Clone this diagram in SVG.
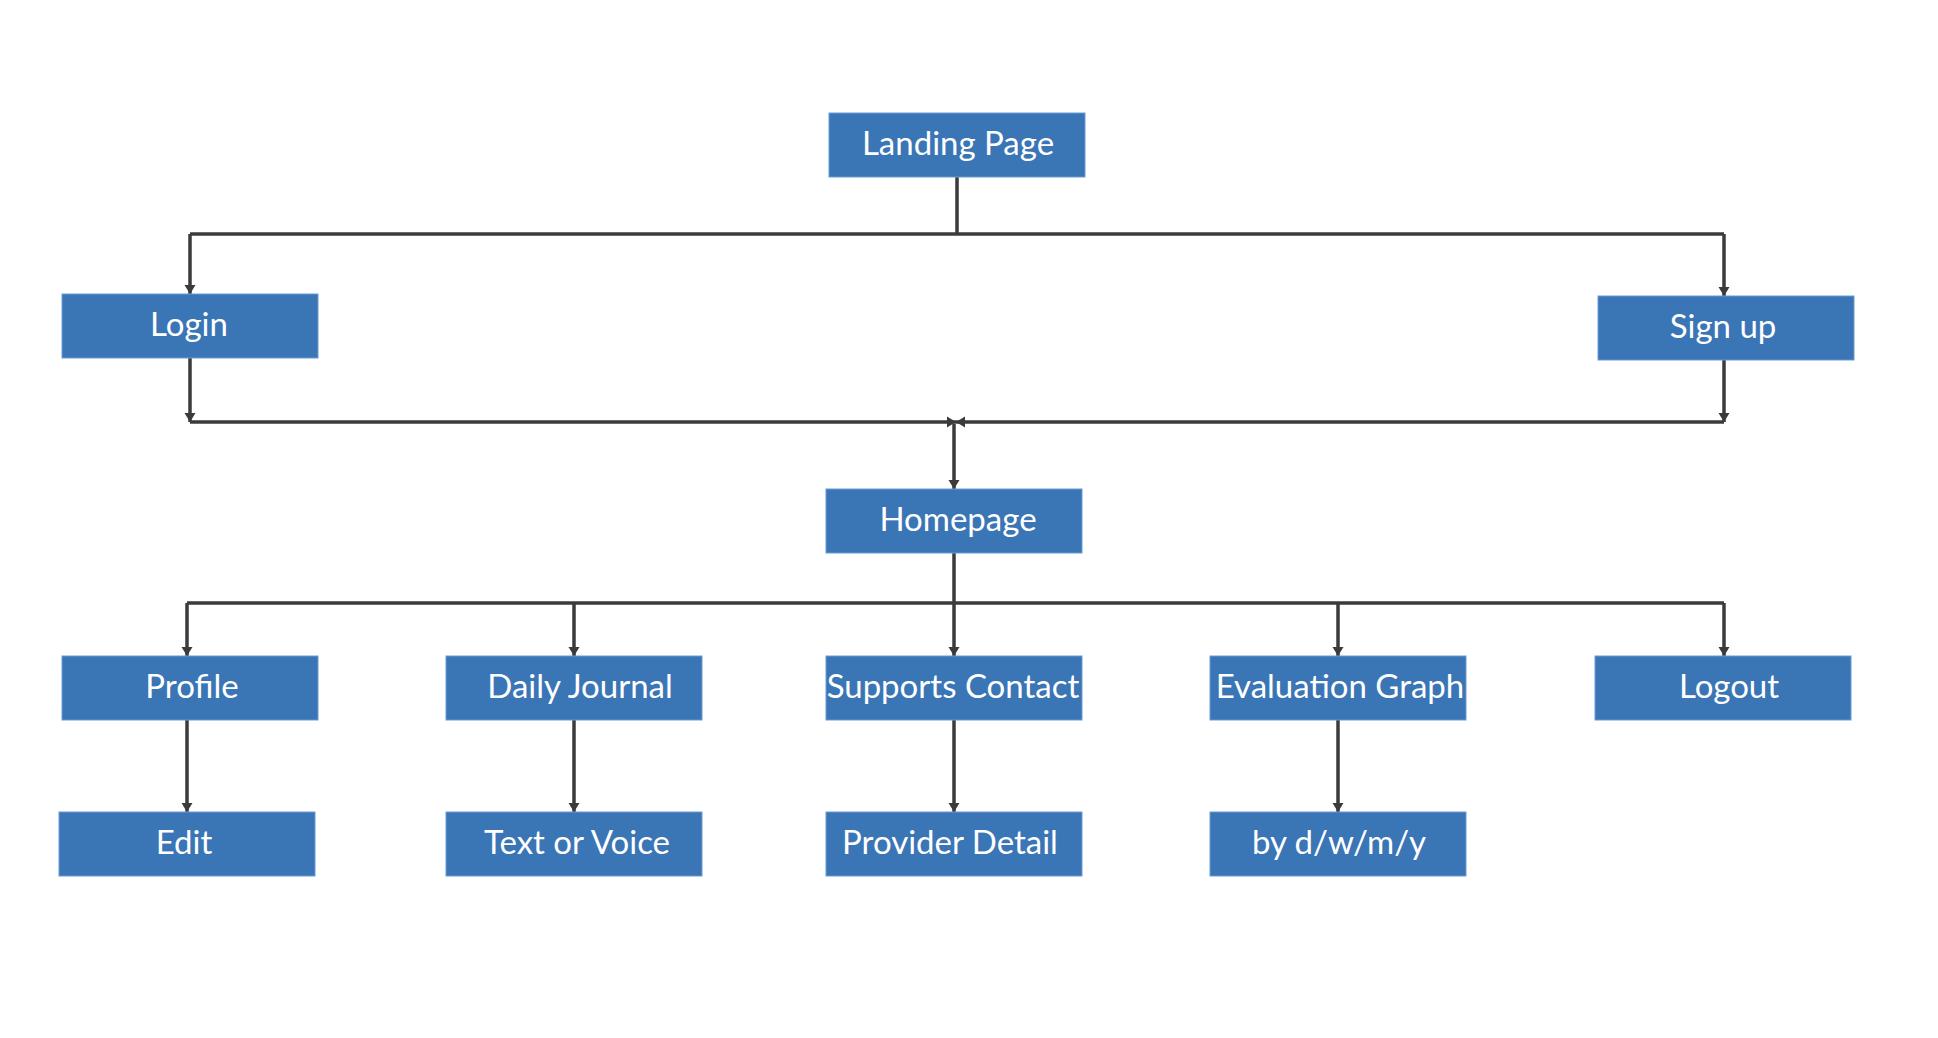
<svg xmlns="http://www.w3.org/2000/svg" width="1938" height="1038" viewBox="0 0 1938 1038">
<style>
.box{fill:#3a75b6;stroke:#6b9bd2;stroke-width:1}
.lbl{font-family:Lato,"Liberation Sans",sans-serif;font-size:33px;fill:#ffffff;text-anchor:middle}
.ln{fill:none;stroke:#3b3b3b;stroke-width:3.5}
</style>
<defs>
<marker id="arr" markerUnits="userSpaceOnUse" markerWidth="12" markerHeight="12" refX="9" refY="6" orient="auto">
<path d="M0,0.5 L9,6 L0,11.5 z" fill="#3b3b3b"/>
</marker>
</defs>
<rect width="1938" height="1038" fill="#ffffff"/>
<g id="connectors">
<path class="ln" d="M957,177 V234"/>
<path class="ln" d="M190,234 H1724"/>
<path class="ln" d="M190,234 V294" marker-end="url(#arr)"/>
<path class="ln" d="M1724,234 V296" marker-end="url(#arr)"/>
<path class="ln" d="M190,358 V422" marker-end="url(#arr)"/>
<path class="ln" d="M1724,360 V422" marker-end="url(#arr)"/>
<path class="ln" d="M190,422 H956" marker-end="url(#arr)"/>
<path class="ln" d="M1724,422 H956" marker-end="url(#arr)"/>
<path class="ln" d="M954,424 V489" marker-end="url(#arr)"/>
<path class="ln" d="M954,553 V603"/>
<path class="ln" d="M187,603 H1724"/>
<path class="ln" d="M187,603 V656" marker-end="url(#arr)"/>
<path class="ln" d="M574,603 V656" marker-end="url(#arr)"/>
<path class="ln" d="M954,603 V656" marker-end="url(#arr)"/>
<path class="ln" d="M1338,603 V656" marker-end="url(#arr)"/>
<path class="ln" d="M1724,603 V656" marker-end="url(#arr)"/>
<path class="ln" d="M187,720 V812" marker-end="url(#arr)"/>
<path class="ln" d="M574,720 V812" marker-end="url(#arr)"/>
<path class="ln" d="M954,720 V812" marker-end="url(#arr)"/>
<path class="ln" d="M1338,720 V812" marker-end="url(#arr)"/>
</g>
<g id="landing"><rect class="box" x="829" y="113" width="256" height="64"/><text class="lbl" x="958" y="155">Landing Page</text></g>
<g id="login"><rect class="box" x="62" y="294" width="256" height="64"/><text class="lbl" x="189" y="336">Login</text></g>
<g id="signup"><rect class="box" x="1598" y="296" width="256" height="64"/><text class="lbl" x="1723" y="338">Sign up</text></g>
<g id="homepage"><rect class="box" x="826" y="489" width="256" height="64"/><text class="lbl" x="958" y="531">Homepage</text></g>
<g id="profile"><rect class="box" x="62" y="656" width="256" height="64"/><text class="lbl" x="192" y="698">Profile</text></g>
<g id="journal"><rect class="box" x="446" y="656" width="256" height="64"/><text class="lbl" x="580" y="698">Daily Journal</text></g>
<g id="supports"><rect class="box" x="826" y="656" width="256" height="64"/><text class="lbl" x="953" y="698">Supports Contact</text></g>
<g id="evaluation"><rect class="box" x="1210" y="656" width="256" height="64"/><text class="lbl" x="1340" y="698">Evaluation Graph</text></g>
<g id="logout"><rect class="box" x="1595" y="656" width="256" height="64"/><text class="lbl" x="1729" y="698">Logout</text></g>
<g id="edit"><rect class="box" x="59" y="812" width="256" height="64"/><text class="lbl" x="184" y="854">Edit</text></g>
<g id="textvoice"><rect class="box" x="446" y="812" width="256" height="64"/><text class="lbl" x="577" y="854">Text or Voice</text></g>
<g id="provider"><rect class="box" x="826" y="812" width="256" height="64"/><text class="lbl" x="950" y="854">Provider Detail</text></g>
<g id="bydwmy"><rect class="box" x="1210" y="812" width="256" height="64"/><text class="lbl" x="1339" y="854">by d/w/m/y</text></g>
</svg>
